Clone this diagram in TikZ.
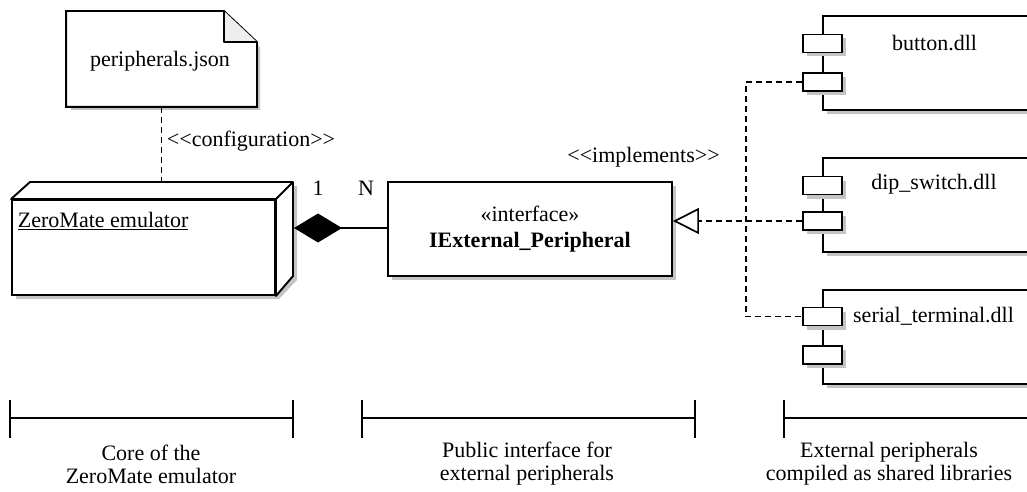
\documentclass[tikz,border=0pt]{standalone}
\usepackage{fontspec}
\setmainfont{LiberationSerif}[Extension=.ttf,UprightFont=*-Regular,BoldFont=*-Bold,ItalicFont=*-Italic,BoldItalicFont=*-BoldItalic]
\usetikzlibrary{arrows.meta,shadows}
\definecolor{shd}{HTML}{C4C4C4}
\definecolor{fold}{HTML}{EEEEEE}
\newcommand{\dlt}{\textless\kern0pt\textless}
\newcommand{\dgt}{\textgreater\kern0pt\textgreater}
\begin{document}
\begin{tikzpicture}[x=1pt,y=-1pt,line width=1.9pt,
  txt/.style={font=\fontsize{22}{23}\selectfont,inner sep=0pt},
  shadowed/.style={drop shadow={shadow xshift=4pt,shadow yshift=-4pt,fill=shd,opacity=1}},
  box/.style={draw,fill=white,shadowed,inner sep=0pt},
  port/.style={box,minimum width=39pt,minimum height=18pt},
  comp/.style={box,minimum width=230pt,minimum height=94pt,anchor=north west},
  dep/.style={dashed,dash pattern=on 6pt off 4pt,line width=1.7pt},
  bracket/.style={line width=1.7pt}]
\useasboundingbox (0,0) rectangle (1027,492);
\clip (0,0) rectangle (1027,492);

% note
\fill[shd] (71,16) -- (227,16) -- (260,47) -- (260,110) -- (71,110) -- cycle;
\node[txt,minimum width=189pt,minimum height=94pt] (note) at (161.5,59) {};
\draw[fill=white] (note.north west) -- ([xshift=-33pt]note.north east) -- ([yshift=-31pt]note.north east) -- (note.south east) -- (note.south west) -- cycle;
\draw[fill=fold,line join=round] ([xshift=-33pt]note.north east) -- ([xshift=-33pt,yshift=-31pt]note.north east) -- ([yshift=-31pt]note.north east);
\node[txt] (notetext) at (160,61) {peripherals.json};

% emulator node (3D box)
\fill[shd] (16,204) -- (34,186) -- (297,186) -- (297,280) -- (279,299) -- (16,299) -- cycle;
\node[draw,fill=white,inner sep=0pt,minimum width=263pt,minimum height=95pt] (emu) at (143.5,247.5) {};
\draw[fill=white,line join=round] (emu.north west) -- (30,182) -- (293,182) -- (293,276) -- (emu.south east) -- (emu.north east) -- cycle;
\draw (emu.north east) -- (293,182);
\node[txt,anchor=west] (emulabel) at (17,221) {\underline{ZeroMate emulator}};
\coordinate (emutop) at (161.5,182);
\coordinate (emuR) at (294,228);

\draw[dep] (note.south) -- (emutop);
\node[txt,anchor=west] (cfg) at (166,141) {\dlt configuration\dgt};

% interface
\node[box,minimum width=284pt,minimum height=94pt,align=center,font=\fontsize{22}{23}\selectfont] (iface) at (530,229)
  {«interface»\\[3pt]\textbf{IExternal\_Peripheral}};
\draw[-{Diamond[length=48pt,width=29pt,fill=black]}] (iface.west |- emuR) -- (emuR);
\node[txt] (one) at (318,188) {1};
\node[txt] (many) at (366,188) {N};

% components
\node[comp] (button) at (822,15) {};
\node[comp] (dip) at (822,157) {};
\node[comp] (serial) at (822,289) {};
\node[port] (bport1) at (822.5,43.5) {};
\node[port] (bport2) at (822.5,82) {};
\node[port] (dport1) at (822.5,185.5) {};
\node[port] (dport2) at (822.5,221) {};
\node[port] (sport1) at (822.5,316.5) {};
\node[port] (sport2) at (822.5,355) {};
\node[txt] (blabel) at (934.5,43) {button.dll};
\node[txt] (dlabel) at (934,184) {dip\_switch.dll};
\node[txt] (slabel) at (933.5,316) {serial\_terminal.dll};

% realization
\coordinate (bus) at (746,221);
\draw[dep,-{Triangle[open,length=26pt,width=26pt,fill=white]}] (dport2.west) -- (iface.east |- dport2.west);
\draw[dep] (bport2.west) -| (bus) |- (sport1.west);
\node[txt] (impl) at (643.5,157) {\dlt implements\dgt};

% brackets
\draw[bracket] (10,400) -- (10,438) (10,418) -- (293,418) (293,400) -- (293,438);
\draw[bracket] (362,400) -- (362,438) (362,418) -- (695,418) (695,400) -- (695,438);
\draw[bracket] (784,400) -- (784,438) (784,418) -- (1040,418);
\node[txt,align=center] (core) at (151,464) {Core of the\\ZeroMate emulator};
\node[txt,align=center] (pub) at (527,464) {Public interface for\\external peripherals};
\node[txt,align=center] (ext) at (889,464) {External peripherals\\compiled as shared libraries};
\end{tikzpicture}
\end{document}
